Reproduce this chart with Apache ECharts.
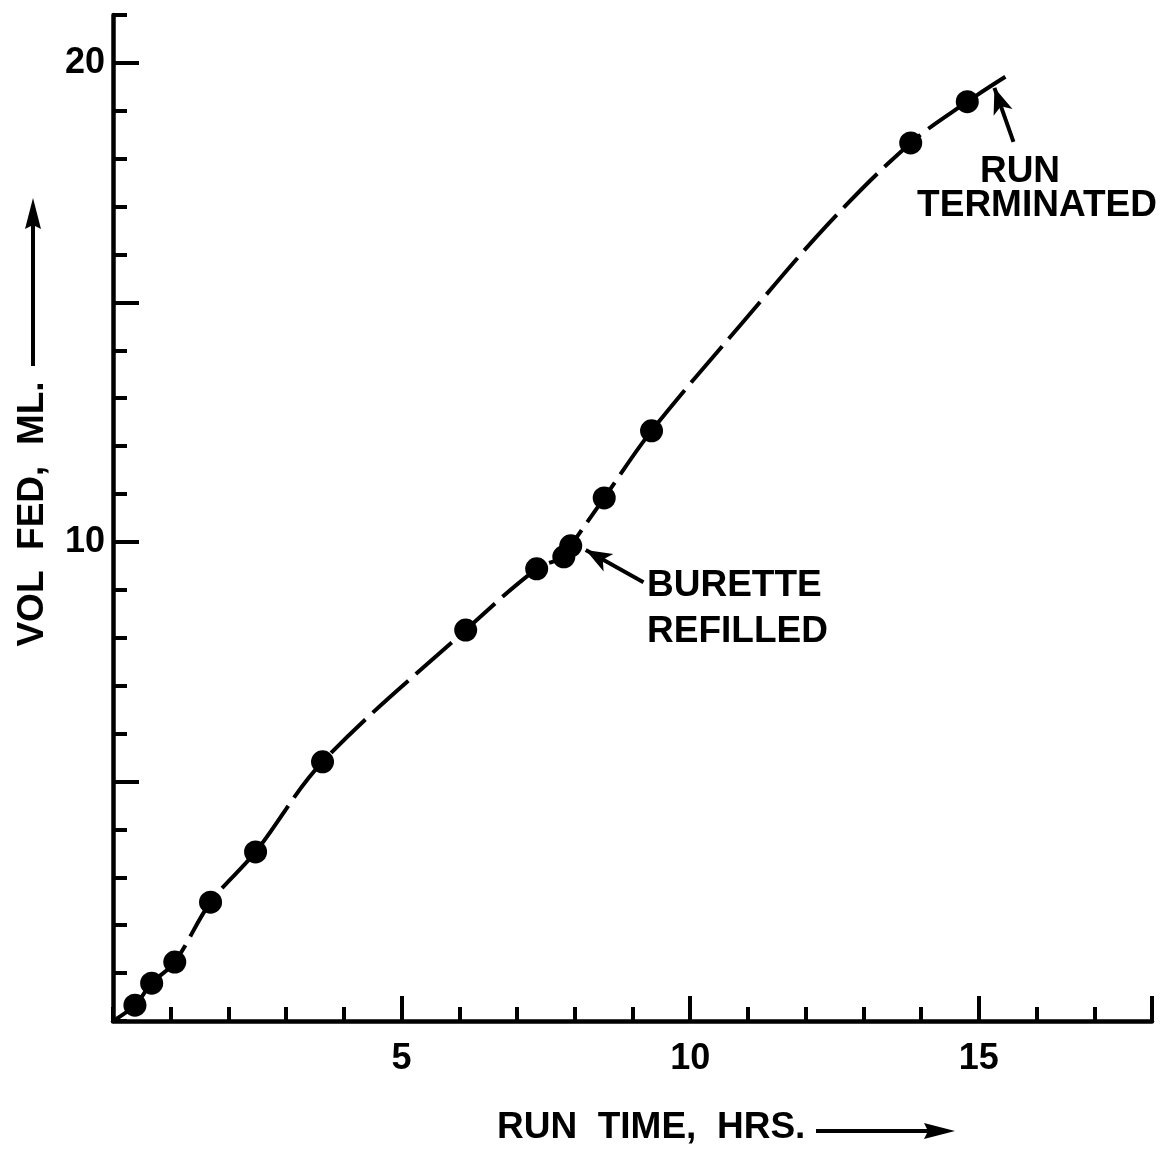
<!DOCTYPE html>
<html>
<head>
<meta charset="utf-8">
<script src="https://cdn.jsdelivr.net/npm/echarts@6/dist/echarts.min.js"></script>
<style>
  html, body { margin: 0; padding: 0; background: #fff; }
  #chart { width: 1162px; height: 1151px; }
</style>
</head>
<body>
<div id="chart"></div>
<script>
// Measured feed volume against run time
const runTimeHrs = [0.38, 0.67, 1.07, 1.69, 2.47, 3.63, 6.11, 7.34, 7.81, 7.93, 8.51, 9.33, 13.82, 14.80];
const volFedMl   = [0.33, 0.79, 1.23, 2.48, 3.53, 5.41, 8.16, 9.44, 9.69, 9.92, 10.92, 12.32, 18.33, 19.19];

// Faired curve: starts at the origin, follows the readings, bends over the
// long gap between 9.3 and 13.8 h, and stops where the run was terminated
const curveStart = [0, 0];
const curveArcHrs = [10.9, 12.4];
const curveArcMl  = [14.57, 16.65];
const curveEnd = [15.46, 19.71];

// Axis ticks and labels
const xLabelValues = [5, 10, 15];
const xLongTicks = [5, 10, 15, 18];
const yLabelValues = [10, 20];
const yLongTicks = [5, 10, 15, 20];

const FONT = '"Liberation Sans", Arial, sans-serif';
const INK = '#000';
const TEXT_FONT = 'bold 37px ' + FONT;

const points = runTimeHrs.map((t, i) => [t, volFedMl[i]]);
const arc = curveArcHrs.map((t, i) => [t, curveArcMl[i]]);
const curve = [curveStart].concat(points, arc, [curveEnd]).sort((a, b) => a[0] - b[0]);

function arrowEnd(coord) {
  return { coord: coord, symbol: 'arrow', symbolSize: [15, 26] };
}

const chart = echarts.init(document.getElementById('chart'), null, { renderer: 'canvas' });

const labelStyle = { color: INK, fontFamily: FONT, fontSize: 36, fontWeight: 'bold' };

chart.setOption({
  animation: false,
  backgroundColor: '#fff',
  grid: { left: 113, right: 10, top: 15, bottom: 130 },
  xAxis: [
    {
      type: 'value', min: 0, max: 18, interval: 1,
      axisLine: { show: true, onZero: false, lineStyle: { color: INK, width: 4.5 } },
      axisTick: { show: true, inside: true, length: 14, lineStyle: { color: INK, width: 4 } },
      axisLabel: Object.assign({ customValues: xLabelValues, margin: 20 }, labelStyle),
      splitLine: { show: false }
    },
    {
      type: 'value', min: 0, max: 18, position: 'bottom',
      axisLine: { show: false },
      axisTick: { show: true, inside: true, length: 25, customValues: xLongTicks, lineStyle: { color: INK, width: 4 } },
      axisLabel: { show: false },
      splitLine: { show: false }
    }
  ],
  yAxis: [
    {
      type: 'value', min: 0, max: 21, interval: 1,
      axisLine: { show: true, onZero: false, lineStyle: { color: INK, width: 4.5 } },
      axisTick: { show: true, inside: true, length: 14, lineStyle: { color: INK, width: 4 } },
      axisLabel: Object.assign({ customValues: yLabelValues, margin: 8 }, labelStyle),
      splitLine: { show: false }
    },
    {
      type: 'value', min: 0, max: 21, position: 'left',
      axisLine: { show: false },
      axisTick: { show: true, inside: true, length: 26, customValues: yLongTicks, lineStyle: { color: INK, width: 4 } },
      axisLabel: { show: false },
      splitLine: { show: false }
    }
  ],
  series: [
    {
      name: 'curve',
      type: 'line',
      xAxisIndex: 0, yAxisIndex: 0,
      data: curve,
      smooth: 0.35,
      showSymbol: false,
      silent: true,
      lineStyle: { color: INK, width: 4, type: [48, 10], cap: 'butt' },
      z: 2,
      markLine: {
        silent: true,
        symbol: ['none', 'arrow'],
        label: { show: false },
        lineStyle: { color: INK, width: 4, type: 'solid' },
        data: [
          [{ coord: [9.19, 9.16], symbol: 'none' }, arrowEnd([8.19, 9.83])],
          [{ coord: [15.60, 18.35], symbol: 'none' }, arrowEnd([15.27, 19.48])]
        ]
      }
    },
    {
      name: 'measured',
      type: 'scatter',
      xAxisIndex: 0, yAxisIndex: 0,
      data: points,
      symbol: 'circle',
      symbolSize: 23,
      itemStyle: { color: INK, opacity: 1 },
      z: 3
    }
  ],
  graphic: [
    // annotations
    { type: 'text', left: 647, top: 567, style: { text: 'BURETTE', fill: INK, font: TEXT_FONT } },
    { type: 'text', left: 647, top: 613, style: { text: 'REFILLED', fill: INK, font: TEXT_FONT } },
    { type: 'text', x: 1020, y: 172, style: { text: 'RUN', fill: INK, font: TEXT_FONT, textAlign: 'center', textVerticalAlign: 'middle' } },
    { type: 'text', x: 1037, y: 206, style: { text: 'TERMINATED', fill: INK, font: TEXT_FONT, textAlign: 'center', textVerticalAlign: 'middle' } },
    // x axis title with arrow
    { type: 'text', x: 497, y: 1128, style: { text: 'RUN  TIME,  HRS.', fill: INK, font: TEXT_FONT, textAlign: 'left', textVerticalAlign: 'middle' } },
    { type: 'line', shape: { x1: 816, y1: 1131, x2: 930, y2: 1131 }, style: { stroke: INK, lineWidth: 4 } },
    { type: 'polygon', shape: { points: [[955, 1131], [924, 1123], [928, 1131], [924, 1139]] }, style: { fill: INK } },
    // y axis title with arrow
    { type: 'text', x: 33, y: 514, rotation: Math.PI / 2, style: { text: 'VOL  FED,  ML.', fill: INK, font: TEXT_FONT, textAlign: 'center', textVerticalAlign: 'middle' } },
    { type: 'line', shape: { x1: 33, y1: 366, x2: 33, y2: 225 }, style: { stroke: INK, lineWidth: 4 } },
    { type: 'polygon', shape: { points: [[33, 198], [25, 229], [33, 225], [41, 229]] }, style: { fill: INK } }
  ]
});
</script>
</body>
</html>
